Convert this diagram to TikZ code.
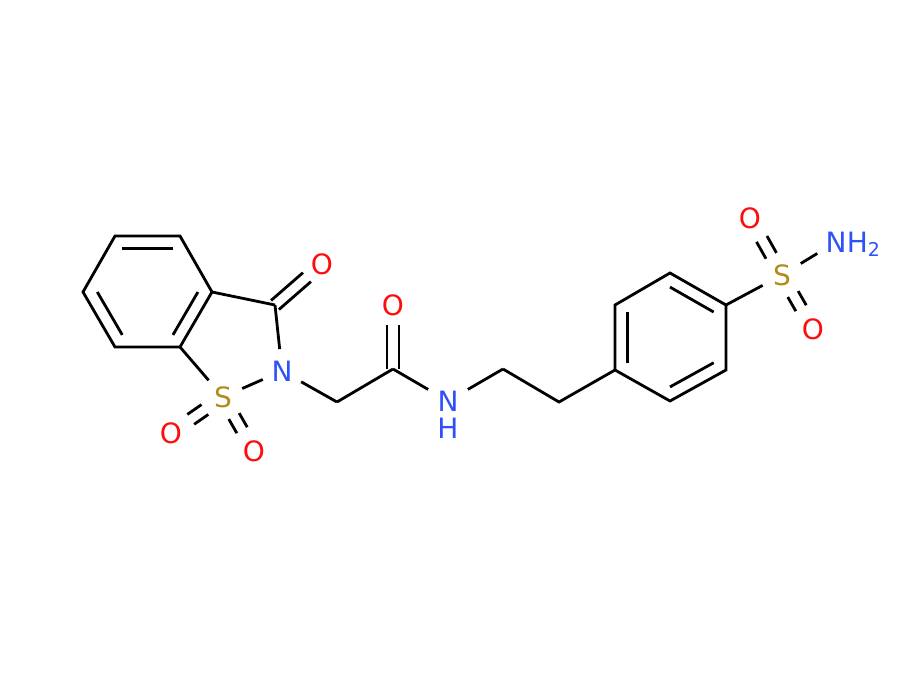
\documentclass[tikz,border=0pt]{standalone}
\usepackage{fontspec}
\setmainfont{DejaVu Sans}
\usetikzlibrary{calc}
\definecolor{ored}{RGB}{255,13,13}
\definecolor{nblue}{RGB}{48,80,248}
\definecolor{sgold}{RGB}{178,140,26}
\tikzset{
  bond/.style={line width=2.8pt, black},
  atom/.style={inner sep=0pt, font=\fontsize{28}{30}\selectfont},
}
% double bond, symmetric: #1,#2 atoms, #3 shorten start, #4 shorten end
\newcommand{\symdbl}[4]{%
  \draw[bond, shorten <=#3, shorten >=#4] ($(#1)!6pt!90:(#2)$) -- ($(#2)!6pt!-90:(#1)$);
  \draw[bond, shorten <=#3, shorten >=#4] ($(#1)!6pt!-90:(#2)$) -- ($(#2)!6pt!90:(#1)$);}
% inner ring line: #1,#2 atoms, #3 ring centre
\newcommand{\ringdbl}[3]{%
  \draw[bond] ($(#1)!0.22!(#3)$) -- ($(#2)!0.22!(#3)$);}
\begin{document}
\begin{tikzpicture}[x=1pt,y=-1pt]
\useasboundingbox (0,0) rectangle (900,680);
% atom positions
\coordinate (b1) at (115,236);
\coordinate (b2) at (180,236);
\coordinate (b3) at (212,292);
\coordinate (b4) at (180,347);
\coordinate (b5) at (115,347);
\coordinate (b6) at (83,292);
\coordinate (bc) at (148,292);
\coordinate (C3) at (275,305);
\coordinate (O3) at (322,264);
\coordinate (N2) at (282,371);
\coordinate (S1) at (223,397);
\coordinate (Os1) at (171,433);
\coordinate (Os2) at (254,451);
\coordinate (ca) at (337,402);
\coordinate (Cam) at (393,369);
\coordinate (Oam) at (393,305);
\coordinate (NH) at (448,401);
\coordinate (c1) at (503,369);
\coordinate (c2) at (559,402);
\coordinate (p1) at (615,370);
\coordinate (p2) at (615,305);
\coordinate (p3) at (670,273);
\coordinate (p4) at (726,305);
\coordinate (p5) at (726,370);
\coordinate (p6) at (670,401);
\coordinate (pc) at (670,337);
\coordinate (S2) at (782,275);
\coordinate (Ot) at (750,218);
\coordinate (Ob) at (813,329);
\coordinate (N3) at (836,242);

% benzo ring
\draw[bond] (b1) -- (b2) -- (b3) -- (b4) -- (b5) -- (b6) -- cycle;
\ringdbl{b1}{b2}{bc}
\ringdbl{b3}{b4}{bc}
\ringdbl{b5}{b6}{bc}
% five ring
\draw[bond] (b3) -- (C3);
\draw[bond, shorten >=22pt] (C3) -- (N2);
\draw[bond, shorten <=21pt, shorten >=21pt] (N2) -- (S1);
\draw[bond, shorten <=22pt] (S1) -- (b4);
\symdbl{C3}{O3}{0pt}{20pt}
\symdbl{S1}{Os1}{22pt}{24pt}
\symdbl{S1}{Os2}{22pt}{24pt}
% chain
\draw[bond, shorten <=22pt] (N2) -- (ca);
\draw[bond] (ca) -- (Cam);
\symdbl{Cam}{Oam}{0pt}{20pt}
\draw[bond, shorten >=23pt] (Cam) -- (NH);
\draw[bond, shorten <=23pt] (NH) -- (c1);
\draw[bond] (c1) -- (c2) -- (p1);
% phenyl
\draw[bond] (p1) -- (p2) -- (p3) -- (p4) -- (p5) -- (p6) -- cycle;
\ringdbl{p3}{p4}{pc}
\ringdbl{p1}{p2}{pc}
\ringdbl{p5}{p6}{pc}
% sulfonamide
\draw[bond, shorten >=22pt] (p4) -- (S2);
\symdbl{S2}{Ot}{22pt}{24pt}
\symdbl{S2}{Ob}{22pt}{24pt}
\draw[bond, shorten <=22pt, shorten >=22pt] (S2) -- (N3);

% labels
\node[atom, text=ored] (lO3) at (O3) {O};
\node[atom, text=nblue] (lN2) at (N2) {N};
\node[atom, text=sgold] (lS1) at (S1) {S};
\node[atom, text=ored] (lOs1) at (Os1) {O};
\node[atom, text=ored] (lOs2) at (Os2) {O};
\node[atom, text=ored] (lOam) at (Oam) {O};
\node[atom, text=nblue] (lNH) at (NH) {N};
\node[atom, text=nblue] (lH) at (448,428) {H};
\node[atom, text=sgold] (lS2) at (S2) {S};
\node[atom, text=ored] (lOt) at (Ot) {O};
\node[atom, text=ored] (lOb) at (Ob) {O};
\node[atom, text=nblue] (lN3) at (N3) {N};
\node[atom, text=nblue, anchor=base west] (lH2) at (lN3.base east) {H\raisebox{-0.3ex}{\fontsize{19}{20}\selectfont 2}};
\end{tikzpicture}
\end{document}
